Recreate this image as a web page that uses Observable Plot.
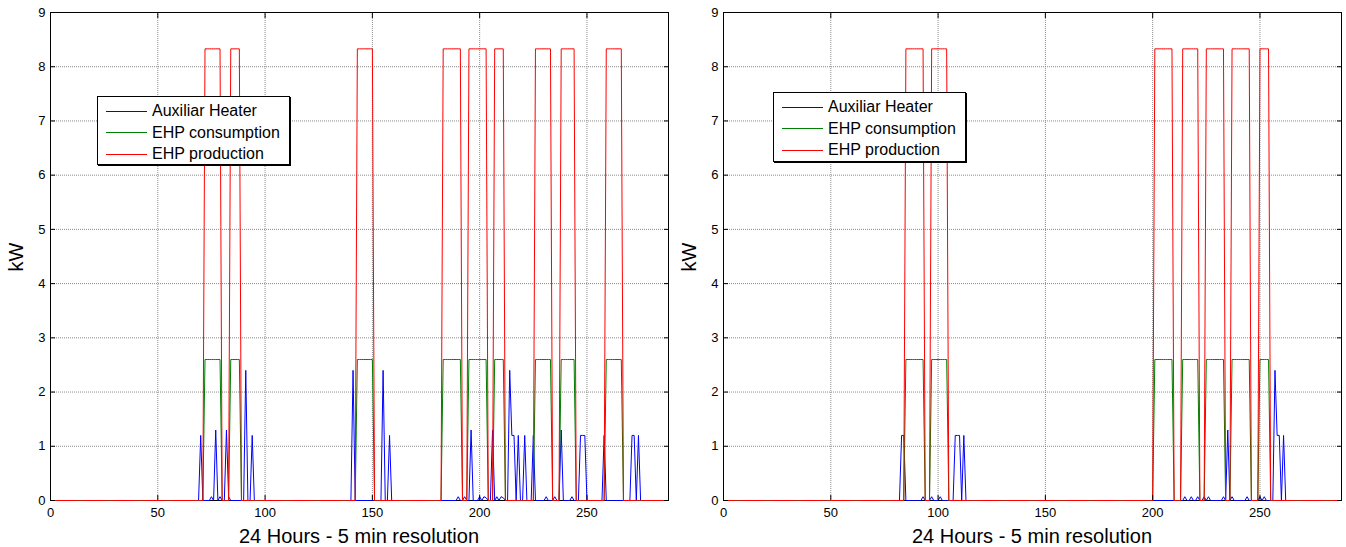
<!DOCTYPE html>
<html>
<head>
<meta charset="utf-8">
<script src="https://cdn.jsdelivr.net/npm/d3@7"></script>
<script src="https://cdn.jsdelivr.net/npm/@observablehq/plot@0.6"></script>
<style>
  body { margin: 0; background: #fff; }
  #wrap { position: relative; width: 1346px; height: 547px; overflow: hidden; background: #fff;
          font-family: "Liberation Sans", Arial, sans-serif; color: #000; }
  .panel { position: absolute; top: 0; }
  .xtitle { position: absolute; font-size: 20px; white-space: nowrap; transform: translate(-50%, -50%); }
  .ytitle { position: absolute; font-size: 20px; white-space: nowrap; transform: translate(-50%, -50%) rotate(-90deg); }
  .legend { position: absolute; background: #fff; border: 1px solid #000; box-shadow: 1px 1px 0 #000;
            box-sizing: border-box; font-size: 16px; }
  .legend .row { position: absolute; left: 0; height: 20px; display: flex; align-items: center; white-space: nowrap; }
  .legend .swatch { width: 41px; height: 0; border-top: 1px solid; margin-left: 8px; margin-right: 5px; }
</style>
</head>
<body>
<div id="wrap"></div>
<script>
// ---------- data ----------
const seriesNames = ["Auxiliar Heater", "EHP consumption", "EHP production"];
const seriesColors = ["#0000ff", "#008000", "#ff0000"];
const xTicks = [0, 50, 100, 150, 200, 250];
const yTicks = [0, 1, 2, 3, 4, 5, 6, 7, 8, 9];
const xTitle = "24 Hours - 5 min resolution";
const yTitle = "kW";
const nSteps = 288;            // 24 h at 5 min resolution
const prodLevel = 8.33;        // EHP production when running (kW)
const consLevel = 2.6;         // EHP consumption when running (kW)

// left chart: EHP running periods (first and last 5-min step at full level)
const leftOnStart = [72, 84, 143, 183, 195, 207, 226, 238, 259];
const leftOnEnd   = [79, 88, 150, 191, 203, 211, 233, 244, 266];
// left chart: auxiliar heater non-zero steps
const leftAuxT = [70, 75, 77, 79, 82, 83, 91, 94, 141, 155, 158, 190, 193, 196, 200, 202, 203, 206, 208, 210, 211,
                  214, 215, 216, 218, 221, 225, 231, 235, 238, 243, 247, 248, 249, 258, 271, 272, 274];
const leftAuxV = [1.2, 0.07, 1.3, 0.07, 1.3, 0.07, 2.4, 1.2, 2.4, 2.4, 1.2, 0.07, 0.07, 1.3, 0.07, 0.07, 0.05, 1.3, 0.07, 0.07, 0.05,
                  2.4, 1.2, 1.2, 1.2, 1.2, 1.2, 0.07, 0.07, 1.3, 0.07, 1.2, 1.2, 1.2, 1.2, 1.2, 1.2, 1.2];

// right chart
const rightOnStart = [85, 97, 201, 214, 225, 237, 250];
const rightOnEnd   = [93, 104, 209, 221, 233, 245, 254];
const rightAuxT = [83, 84, 93, 97, 101, 108, 109, 110, 112, 215, 218, 221, 224, 226, 233, 235, 237, 244, 250, 252,
                   257, 258, 259, 261];
const rightAuxV = [1.2, 1.2, 0.07, 0.07, 0.07, 1.2, 1.2, 1.2, 1.2, 0.07, 0.07, 0.07, 0.07, 0.07, 0.07, 1.3, 0.07, 0.07, 0.07, 0.07,
                   2.4, 1.2, 1.2, 1.2];

// ---------- build ----------
function buildRows(onStart, onEnd, auxT, auxV) {
  const aux = new Map(auxT.map((t, i) => [t, auxV[i]]));
  const rows = [];
  for (let t = 0; t <= nSteps; t++) {
    const on = onStart.some((s, i) => t >= s && t <= onEnd[i]);
    rows.push({t, v: aux.get(t) ?? 0, s: seriesNames[0]});
    rows.push({t, v: on ? consLevel : 0, s: seriesNames[1]});
    rows.push({t, v: on ? prodLevel : 0, s: seriesNames[2]});
  }
  return rows;
}

function panel(rows) {
  const lines = seriesNames.map((name, i) =>
    Plot.line(rows.filter(d => d.s === name), {x: "t", y: "v", stroke: seriesColors[i], strokeWidth: 1}));
  return Plot.plot({
    width: 673, height: 547,
    marginLeft: 50, marginRight: 5, marginTop: 12, marginBottom: 47,
    style: {fontFamily: "'Liberation Sans', Arial, sans-serif", fontSize: "13px", color: "#000", background: "#fff", overflow: "visible"},
    x: {domain: [0, nSteps], ticks: xTicks, label: null},
    y: {domain: [0, 9], ticks: yTicks, label: null},
    marks: [
      Plot.gridX(xTicks, {stroke: "#8a8a8a", strokeOpacity: 1, strokeDasharray: "1,1"}),
      Plot.gridY(yTicks, {stroke: "#8a8a8a", strokeOpacity: 1, strokeDasharray: "1,1"}),
      Plot.frame({stroke: "#000"}),
      ...lines,
      Plot.axisX({ticks: xTicks, anchor: "bottom", tickSize: 0, tickPadding: 7, label: null}),
      Plot.axisX({ticks: xTicks, anchor: "bottom", tickSize: -5, tickFormat: () => "", label: null}),
      Plot.axisX({ticks: xTicks, anchor: "top", tickSize: -5, tickFormat: () => "", label: null}),
      Plot.axisY({ticks: yTicks, anchor: "left", tickSize: 0, tickPadding: 5, label: null}),
      Plot.axisY({ticks: yTicks, anchor: "left", tickSize: -5, tickFormat: () => "", label: null}),
      Plot.axisY({ticks: yTicks, anchor: "right", tickSize: -5, tickFormat: () => "", label: null})
    ]
  });
}

const wrap = d3.select("#wrap");
const panels = [
  {left: 0,   rows: buildRows(leftOnStart, leftOnEnd, leftAuxT, leftAuxV),   legend: {x: 97, y: 96, h: 69}},
  {left: 673, rows: buildRows(rightOnStart, rightOnEnd, rightAuxT, rightAuxV), legend: {x: 773, y: 92, h: 70}}
];
panels.forEach(p => {
  const svg = panel(p.rows);
  const holder = wrap.append("div").attr("class", "panel").style("left", p.left + "px");
  holder.node().appendChild(svg);
  wrap.append("div").attr("class", "xtitle").style("left", (p.left + 50 + 309) + "px").style("top", "536px").text(xTitle);
  wrap.append("div").attr("class", "ytitle").style("left", (p.left + 16) + "px").style("top", "257px").text(yTitle);
  const lg = wrap.append("div").attr("class", "legend")
    .style("left", p.legend.x + "px").style("top", p.legend.y + "px")
    .style("width", "193px").style("height", p.legend.h + "px");
  seriesNames.forEach((name, i) => {
    const row = lg.append("div").attr("class", "row").style("top", (4 + i * 21.5) + "px");
    row.append("div").attr("class", "swatch").style("border-top-color", seriesColors[i]);
    row.append("span").text(name);
  });
});
</script>
</body>
</html>
